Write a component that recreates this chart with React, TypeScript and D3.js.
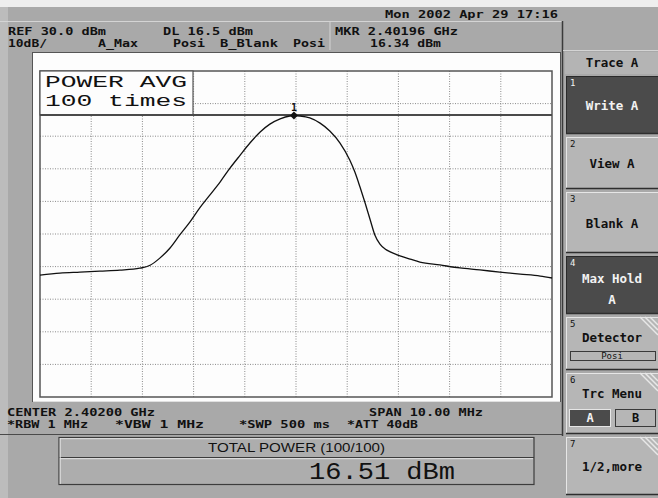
import React from "react";
import * as d3 from "d3";

// ---- data ----
const freqOffsetMHz = [
  -5.0, -4.61, -4.22, -3.83, -3.44, -3.05, -2.85, -2.66, -2.46, -2.27, -2.07, -1.88, -1.68, -1.48,
  -1.29, -1.09, -0.9, -0.7, -0.51, -0.31, -0.12, -0.04, 0.08, 0.27, 0.47, 0.66, 0.86, 1.05, 1.15,
  1.25, 1.35, 1.45, 1.54, 1.64, 1.74, 1.84, 2.03, 2.23, 2.42, 2.81, 3.2, 3.59, 3.98, 4.38, 4.77, 5.0,
];
const traceDbm = [
  -32.6, -32.0, -31.7, -31.4, -31.1, -30.5, -29.6, -27.4, -24.3, -20.3, -16.3, -12.0, -8.0, -4.0,
  0.2, 4.2, 7.9, 11.3, 13.7, 15.3, 16.2, 16.34, 16.2, 15.6, 14.0, 11.6, 7.9, 2.7, -1.0,
  -5.6, -10.5, -15.7, -20.3, -23.1, -24.6, -25.5, -26.7, -27.7, -28.6, -29.5, -30.4, -31.0, -31.7, -32.3, -32.9, -33.5,
];
const refLevel = 30;
const dbPerDiv = 10;
const divisions = 10;
const spanMHz = 10;
const displayLine = 16.5;
const markerOffsetMHz = -0.04;
const markerDbm = 16.34;

const headerTexts = [
  { t: "Mon 2002 Apr 29 17:16", x: 385, y: 18, w: 173 },
  { t: "REF 30.0 dBm", x: 8, y: 35, w: 98 },
  { t: "DL 16.5 dBm", x: 163, y: 35, w: 90 },
  { t: "MKR 2.40196 GHz", x: 335, y: 35, w: 123 },
  { t: "10dB/", x: 8, y: 47, w: 39 },
  { t: "A_Max", x: 98, y: 47, w: 40 },
  { t: "Posi", x: 173, y: 47, w: 32 },
  { t: "B_Blank", x: 220, y: 47, w: 58 },
  { t: "Posi", x: 293, y: 47, w: 32 },
  { t: "16.34 dBm", x: 370, y: 47, w: 71 },
  { t: "CENTER 2.40200 GHz", x: 7, y: 416, w: 148 },
  { t: "SPAN 10.00 MHz", x: 369, y: 416, w: 114 },
  { t: "*RBW 1 MHz", x: 7, y: 428, w: 81 },
  { t: "*VBW 1 MHz", x: 115, y: 428, w: 89 },
  { t: "*SWP 500 ms", x: 239, y: 428, w: 91 },
  { t: "*ATT 40dB", x: 347, y: 428, w: 71 },
];

const softkeys = [
  { n: "1", y0: 76, y1: 134, dark: true, hatch: false, lines: ["Write A"] },
  { n: "2", y0: 137, y1: 189, dark: false, hatch: false, lines: ["View A"] },
  { n: "3", y0: 192, y1: 253, dark: false, hatch: false, lines: ["Blank A"] },
  { n: "4", y0: 256, y1: 314, dark: true, hatch: false, lines: ["Max Hold", "A"] },
  { n: "5", y0: 317, y1: 370, dark: false, hatch: true, lines: ["Detector"] },
  { n: "6", y0: 373, y1: 434, dark: false, hatch: true, lines: ["Trc Menu"] },
  { n: "7", y0: 437, y1: 495, dark: false, hatch: true, lines: ["1/2,more"] },
];

const MONO = "'DejaVu Sans Mono', monospace";
const COURIER = "'Liberation Mono', 'Courier New', monospace";

export default function App() {
  const gx0 = 40, gx1 = 552, gy0 = 71, gy1 = 397;
  const x = d3.scaleLinear().domain([-spanMHz / 2, spanMHz / 2]).range([gx0, gx1]);
  const y = d3
    .scaleLinear()
    .domain([refLevel - dbPerDiv * divisions, refLevel])
    .range([gy1, gy0]);
  const xTicks = d3.range(1, divisions).map((i) => -spanMHz / 2 + (i * spanMHz) / divisions);
  const yTicks = d3.range(1, divisions).map((i) => refLevel - i * dbPerDiv);
  const pts: [number, number][] = freqOffsetMHz.map((f, i) => [f, traceDbm[i]]);
  const line = d3
    .line<[number, number]>()
    .x((d) => x(d[0]))
    .y((d) => y(d[1]))
    .curve(d3.curveMonotoneX);

  const mx = x(markerOffsetMHz);
  const my = y(markerDbm);

  return (
    <svg width={658} height={498} style={{ display: "block", position: "absolute", left: 0, top: 0 }}>
      <rect x={0} y={0} width={658} height={498} fill="#a9a9a9" />
      <rect x={0} y={0} width={658} height={7} fill="#eeeeee" />
      <rect x={0} y={7} width={8} height={491} fill="#bcbcbc" />
      <line x1={0} x2={562} y1={21.5} y2={21.5} stroke="#d4d4d4" strokeWidth={1} />
      <line x1={330} x2={330} y1={21} y2={50} stroke="#d4d4d4" strokeWidth={1} />
      <line x1={562.5} x2={562.5} y1={21} y2={436} stroke="#3a3a3a" strokeWidth={1.5} />
      {/* header texts */}
      {headerTexts.map((h, i) => (
        <text
          key={i}
          x={h.x}
          y={h.y}
          textLength={h.w}
          lengthAdjust="spacingAndGlyphs"
          fontFamily={MONO}
          fontWeight="bold"
          fontSize={10.5}
          fill="#111"
        >
          {h.t}
        </text>
      ))}

      {/* screen */}
      <rect x={32.5} y={52.5} width={528} height={349} fill="#fdfdfd" stroke="#555" strokeWidth={1} />
      <line x1={33} x2={560} y1={401.5} y2={401.5} stroke="#e0e0e0" />
      {/* grid */}
      {xTicks.map((t, i) => (
        <line
          key={"vx" + i}
          x1={x(t)}
          x2={x(t)}
          y1={gy0}
          y2={gy1}
          stroke="#8a8a8a"
          strokeWidth={1}
          strokeDasharray="1,1.5"
        />
      ))}
      {yTicks.map((t, i) => (
        <line
          key={"hy" + i}
          x1={gx0}
          x2={gx1}
          y1={y(t)}
          y2={y(t)}
          stroke="#8a8a8a"
          strokeWidth={1}
          strokeDasharray="1,1.5"
        />
      ))}
      <rect x={gx0} y={gy0} width={gx1 - gx0} height={gy1 - gy0} fill="none" stroke="#555" strokeWidth={1.5} />
      {/* POWER AVG box */}
      <rect x={gx0} y={gy0} width={153} height={y(displayLine) - gy0} fill="#fdfdfd" stroke="#555" strokeWidth={1.2} />
      <text x={45} y={87} textLength={142} lengthAdjust="spacingAndGlyphs" fontFamily={COURIER} fontSize={17} fill="#111">
        POWER AVG
      </text>
      <text x={45} y={106} textLength={142} lengthAdjust="spacingAndGlyphs" fontFamily={COURIER} fontSize={17} fill="#111">
        100 times
      </text>
      {/* display line */}
      <line x1={gx0} x2={gx1} y1={y(displayLine)} y2={y(displayLine)} stroke="#4a4a4a" strokeWidth={2} />
      {/* trace */}
      <path d={line(pts) || ""} fill="none" stroke="#111" strokeWidth={1.3} />
      {/* marker */}
      <path d={`M${mx},${my - 4}L${mx + 4},${my}L${mx},${my + 4}L${mx - 4},${my}Z`} fill="#111" />
      <text x={mx} y={my - 5} textAnchor="middle" fontFamily={MONO} fontWeight="bold" fontSize={10} fill="#111">
        1
      </text>

      {/* total power box */}
      <line x1={0} x2={562} y1={434.5} y2={434.5} stroke="#4a4a4a" strokeWidth={1.2} />
      <rect x={59} y={437.5} width={475} height={47} fill="#adadad" stroke="#3c3c3c" strokeWidth={1.2} />
      <line x1={59} x2={534} y1={457.5} y2={457.5} stroke="#3c3c3c" strokeWidth={1.2} />
      <line x1={60} x2={533} y1={438.7} y2={438.7} stroke="#e4e4e4" strokeWidth={1} />
      <line x1={60} x2={533} y1={458.7} y2={458.7} stroke="#e4e4e4" strokeWidth={1} />
      <line x1={60.2} x2={60.2} y1={438} y2={484} stroke="#e4e4e4" strokeWidth={1} />
      <text x={208} y={452} textLength={177} lengthAdjust="spacingAndGlyphs" fontFamily="'Liberation Sans', Arial, sans-serif" fontSize={12} fill="#111">
        TOTAL POWER  (100/100)
      </text>
      <text x={309} y={479} textLength={146} lengthAdjust="spacingAndGlyphs" fontFamily={COURIER} fontSize={24} fill="#111">
        16.51 dBm
      </text>

      {/* softkey panel */}
      <line x1={563} x2={658} y1={50.5} y2={50.5} stroke="#d4d4d4" />
      <rect x={565} y={52} width={93} height={22} fill="#b4b4b4" />
      <text x={612} y={67} textAnchor="middle" fontFamily={MONO} fontWeight="bold" fontSize={12.5} fill="#111">
        Trace A
      </text>
      {softkeys.map((k, i) => {
        const fg = k.dark ? "#f2f2f2" : "#111";
        const mid = (k.y0 + k.y1) / 2;
        const baseY =
          k.lines.length === 2 ? [mid - 2, mid + 19] : k.n === "5" || k.n === "6" ? [k.y0 + 25] : [mid + 5];
        return (
          <g key={i}>
            <rect x={566} y={k.y0} width={92} height={k.y1 - k.y0} fill={k.dark ? "#4b4b4b" : "#b6b6b6"} />
            <line x1={566} x2={658} y1={k.y0 + 0.5} y2={k.y0 + 0.5} stroke={k.dark ? "#2a2a2a" : "#e6e6e6"} />
            <line x1={566.5} x2={566.5} y1={k.y0} y2={k.y1} stroke={k.dark ? "#2a2a2a" : "#e6e6e6"} />
            <line x1={566} x2={658} y1={k.y1 - 0.5} y2={k.y1 - 0.5} stroke="#2e2e2e" strokeWidth={1.5} />
            {k.hatch &&
              [0, 5, 10].map((o) => (
                <line key={o} x1={640 + o} y1={k.y0} x2={658} y2={k.y0 + 18 - o} stroke="#e8e8e8" strokeWidth={1.5} />
              ))}
            <text x={570} y={k.y0 + 10} fontFamily={MONO} fontSize={9} fill={fg}>
              {k.n}
            </text>
            {k.lines.map((l, j) => (
              <text key={j} x={612} y={baseY[j]} textAnchor="middle" fontFamily={MONO} fontWeight="bold" fontSize={12.5} fill={fg}>
                {l}
              </text>
            ))}
          </g>
        );
      })}
      {/* Detector Posi box */}
      <rect x={570.5} y={351.5} width={85} height={9} fill="#b6b6b6" stroke="#3a3a3a" />
      <text x={612} y={359} textAnchor="middle" fontFamily={MONO} fontSize={9} fill="#111">
        Posi
      </text>
      {/* A / B boxes */}
      <rect x={569.5} y={409.5} width={41} height={17} fill="#4b4b4b" stroke="#e6e6e6" />
      <text x={590} y={422} textAnchor="middle" fontFamily={MONO} fontWeight="bold" fontSize={12} fill="#f2f2f2">
        A
      </text>
      <rect x={615.5} y={409.5} width={40} height={17} fill="#b6b6b6" stroke="#3a3a3a" />
      <text x={635.5} y={422} textAnchor="middle" fontFamily={MONO} fontWeight="bold" fontSize={12} fill="#111">
        B
      </text>
    </svg>
  );
}
